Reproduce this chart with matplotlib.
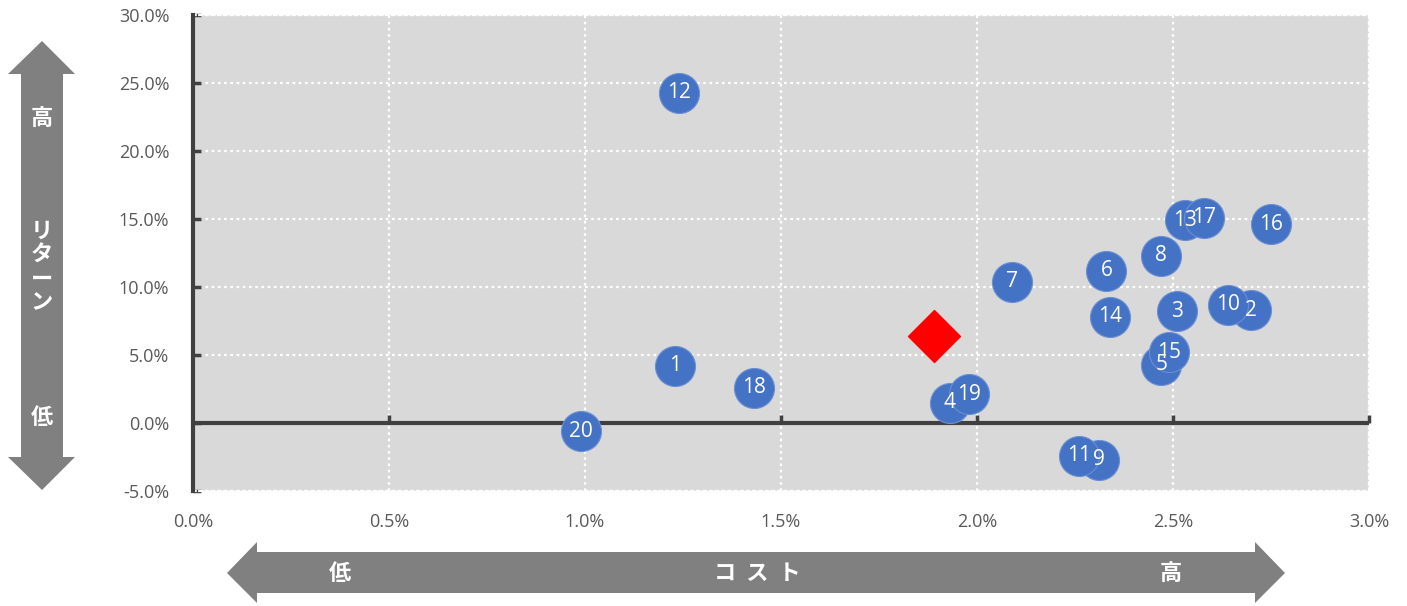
import matplotlib
matplotlib.use("Agg")
import matplotlib.pyplot as plt
from matplotlib.patches import Polygon
from matplotlib.ticker import FuncFormatter

plt.rcParams['font.family'] = ['Noto Sans CJK JP', 'DejaVu Sans']

# ---- data (cost %, return %) ----
labels = ['1', '2', '3', '4', '5', '6', '7', '8', '9', '10',
          '11', '12', '13', '14', '15', '16', '17', '18', '19', '20']
cost = [1.23, 2.70, 2.51, 1.93, 2.47, 2.33, 2.09, 2.47, 2.31, 2.64,
        2.26, 1.24, 2.53, 2.34, 2.49, 2.75, 2.58, 1.43, 1.98, 0.99]
ret = [4.2, 8.3, 8.2, 1.5, 4.3, 11.2, 10.4, 12.3, -2.7, 8.7,
       -2.4, 24.3, 14.9, 7.8, 5.2, 14.6, 15.1, 2.6, 2.1, -0.6]
avg_cost = [1.89]
avg_ret = [6.4]

xticks = [0.0, 0.5, 1.0, 1.5, 2.0, 2.5, 3.0]
yticks = [-5.0, 0.0, 5.0, 10.0, 15.0, 20.0, 25.0, 30.0]

W, H = 1407, 606
fig = plt.figure(figsize=(W / 100, H / 100), dpi=100)
ax = fig.add_axes([193 / W, 1 - 491 / H, (1369 - 193) / W, (491 - 15) / H])
ax.set_facecolor('#D9D9D9')
ax.set_xlim(0, 3.0)
ax.set_ylim(-5, 30)
ax.set_xticks(xticks)
ax.set_yticks(yticks)
ax.xaxis.set_major_formatter(FuncFormatter(lambda v, p: f'{v:.1f}%'))
ax.yaxis.set_major_formatter(FuncFormatter(lambda v, p: f'{v:.1f}%'))
ax.grid(True, color='white', linestyle=(0, (1.2, 1.6)), linewidth=1.6)
ax.set_axisbelow(True)

for s in ['top', 'right', 'bottom']:
    ax.spines[s].set_color('white')
    ax.spines[s].set_linestyle((0, (1.2, 1.6)))
    ax.spines[s].set_linewidth(1.6)
ax.spines['left'].set_color('#404040')
ax.spines['left'].set_linewidth(3)
ax.spines['left'].set_zorder(3)

ax.tick_params(axis='x', length=0, pad=16, labelsize=13, labelcolor='#595959')
ax.tick_params(axis='y', direction='in', length=6, width=2.5, color='#404040',
               pad=17, labelsize=13, labelcolor='#595959')
for t in ax.get_xticklabels() + ax.get_yticklabels():
    t.set_fontfamily(['Open Sans', 'DejaVu Sans'])

# zero line with upward ticks
ax.axhline(0, color='#404040', lw=3, zorder=3)
ax.plot(xticks[1:], [0] * (len(xticks) - 1), ls='none', marker=2,
        markersize=6, mew=2.5, color='#404040', zorder=3, clip_on=False)

# scatter points
ax.scatter(cost, ret, s=830, color='#4472C4', edgecolor='#6A8FD3',
           linewidth=0.8, zorder=4)
for xv, yv, lb in zip(cost, ret, labels):
    ax.text(xv, yv, lb, color='white', fontsize=15, ha='center', va='center',
            zorder=5, family=['Open Sans', 'DejaVu Sans'])

ax.scatter(avg_cost, avg_ret, s=700, marker='D', color='#FF0000', zorder=4)

# arrows (figure pixel coordinates -> fraction)
def fp(pts):
    return [(x / W, 1 - y / H) for x, y in pts]

gray = '#808080'
varrow = [(42, 41), (75, 74), (63, 74), (63, 457), (75, 457), (42, 490),
          (8, 457), (21, 457), (21, 74), (8, 74)]
harrow = [(227, 573), (257, 542), (257, 552), (1255, 552), (1255, 542),
          (1285, 573), (1255, 603), (1255, 593), (257, 593), (257, 603)]
fig.patches.append(Polygon(fp(varrow), closed=True, transform=fig.transFigure,
                           facecolor=gray, edgecolor='none'))
fig.patches.append(Polygon(fp(harrow), closed=True, transform=fig.transFigure,
                           facecolor=gray, edgecolor='none'))

tk = dict(color='white', fontsize=16, fontweight='bold', ha='center', va='center')
fig.text(42 / W, 1 - 118 / H, '高', **tk)
fig.text(42 / W, 1 - 267 / H, 'リ\nタ\nー\nン', linespacing=1.05, **tk)
fig.text(42 / W, 1 - 418 / H, '低', **tk)
fig.text(340 / W, 1 - 573 / H, '低', **tk)
fig.text(757 / W, 1 - 573 / H, 'コ  ス  ト', **tk)
fig.text(1171 / W, 1 - 573 / H, '高', **tk)

fig.savefig('out.png', dpi=100)
